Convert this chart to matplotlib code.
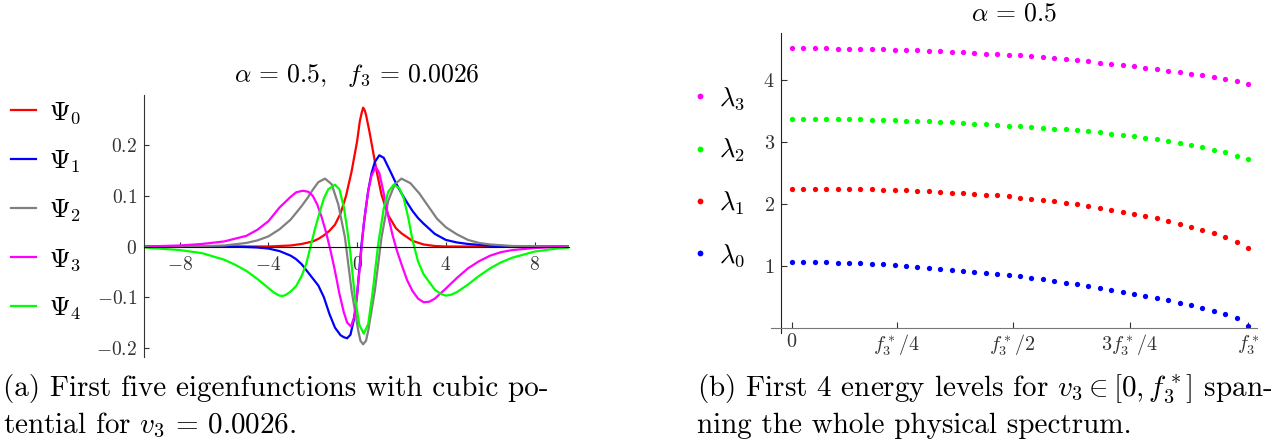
import numpy as np
import matplotlib
matplotlib.use('Agg')
import matplotlib.pyplot as plt

plt.rcParams['font.family'] = 'cmr10'
plt.rcParams['mathtext.fontset'] = 'cm'
plt.rcParams['axes.formatter.use_mathtext'] = True

# ---- (a) eigenfunctions ----
psi0_x = [-9.6, -4.0, -3.5, -3.0, -2.5, -2.0, -1.75, -1.5, -1.25, -1.0, -0.75, -0.5, -0.25, 0.0,
          0.12, 0.2, 0.27, 0.34, 0.4, 0.55, 0.72, 0.9, 1.1, 1.4, 1.75, 2.0, 2.5, 3.0, 3.5, 4.0, 9.6]
psi0_y = [0.0, 0.0, 0.001, 0.002, 0.005, 0.01, 0.015, 0.022, 0.031, 0.043, 0.065, 0.1, 0.148, 0.208,
          0.247, 0.263, 0.274, 0.269, 0.26, 0.228, 0.187, 0.144, 0.102, 0.062, 0.036, 0.026, 0.011,
          0.004, 0.001, 0.0, 0.0]

psi1_x = [-9.6, -6.0, -5.0, -4.5, -4.0, -3.5, -3.0, -2.75, -2.5, -2.25, -2.0, -1.75, -1.5, -1.25,
          -1.0, -0.75, -0.6, -0.45, -0.3, -0.15, 0.0, 0.2, 0.35, 0.5, 0.65, 0.8, 1.0, 1.2, 1.5,
          1.75, 2.0, 2.25, 2.5, 2.75, 3.0, 3.5, 4.0, 4.5, 5.0, 6.0, 7.0, 9.6]
psi1_y = [0.0, 0.0, -0.001, -0.002, -0.004, -0.009, -0.018, -0.025, -0.035, -0.049, -0.063, -0.077,
          -0.1, -0.133, -0.16, -0.175, -0.179, -0.181, -0.174, -0.145, -0.095, 0.005, 0.062, 0.11,
          0.145, 0.167, 0.18, 0.175, 0.148, 0.125, 0.105, 0.087, 0.07, 0.056, 0.045, 0.025, 0.013,
          0.008, 0.005, 0.0015, 0.0005, 0.0]

psi2_x = [-9.6, -7.0, -6.0, -5.0, -4.5, -4.0, -3.5, -3.0, -2.5, -2.25, -2.0, -1.75, -1.45, -1.15,
          -0.85, -0.55, -0.25, 0.05, 0.15, 0.27, 0.4, 0.5, 0.8, 1.1, 1.4, 1.7, 2.0, 2.4, 2.8, 3.2,
          3.6, 4.0, 4.5, 5.0, 5.5, 6.0, 7.0, 9.6]
psi2_y = [0.0, 0.001, 0.002, 0.007, 0.012, 0.02, 0.034, 0.053, 0.08, 0.095, 0.112, 0.127, 0.134,
          0.123, 0.083, 0.018, -0.087, -0.166, -0.186, -0.193, -0.186, -0.166, -0.087, 0.018, 0.09,
          0.123, 0.134, 0.125, 0.105, 0.08, 0.055, 0.038, 0.024, 0.013, 0.007, 0.004, 0.001, 0.0]

psi3_x = [-9.6, -8.0, -7.0, -6.0, -5.0, -4.5, -4.0, -3.5, -3.0, -2.75, -2.45, -2.2, -2.0, -1.8,
          -1.6, -1.4, -1.2, -1.0, -0.8, -0.6, -0.45, -0.28, -0.1, 0.1, 0.3, 0.5, 0.65, 0.84, 1.0,
          1.2, 1.4, 1.6, 1.8, 2.0, 2.25, 2.5, 2.75, 3.0, 3.25, 3.5, 4.0, 4.5, 5.0, 5.5, 6.0, 6.5,
          7.0, 8.0, 9.0, 9.6]
psi3_y = [0.0, 0.002, 0.005, 0.01, 0.021, 0.033, 0.05, 0.077, 0.098, 0.107, 0.11, 0.108, 0.1, 0.083,
          0.058, 0.028, -0.008, -0.048, -0.093, -0.13, -0.15, -0.158, -0.135, -0.05, 0.045, 0.11,
          0.14, 0.157, 0.145, 0.105, 0.06, 0.022, -0.009, -0.035, -0.066, -0.088, -0.103, -0.11,
          -0.109, -0.103, -0.083, -0.062, -0.043, -0.029, -0.018, -0.011, -0.007, -0.003, -0.001, 0.0]

psi4_x = [-9.6, -8.0, -7.0, -6.0, -5.5, -5.0, -4.5, -4.0, -3.75, -3.5, -3.35, -3.2, -3.0, -2.75,
          -2.5, -2.3, -2.1, -1.9, -1.7, -1.5, -1.3, -1.0, -0.8, -0.6, -0.45, -0.3, -0.1, 0.1, 0.3,
          0.5, 0.7, 0.95, 1.2, 1.4, 1.65, 1.9, 2.1, 2.3, 2.5, 2.75, 3.0, 3.5, 3.75, 4.0, 4.25, 4.5,
          5.0, 5.5, 6.0, 6.5, 7.0, 8.0, 9.0, 9.6]
psi4_y = [-0.002, -0.007, -0.013, -0.026, -0.036, -0.048, -0.064, -0.082, -0.091, -0.097, -0.0975,
          -0.095, -0.089, -0.078, -0.058, -0.035, 0.0, 0.035, 0.066, 0.095, 0.113, 0.122, 0.113,
          0.078, 0.035, -0.015, -0.1, -0.155, -0.172, -0.153, -0.09, 0.005, 0.075, 0.108, 0.122,
          0.115, 0.095, 0.058, 0.012, -0.03, -0.055, -0.085, -0.093, -0.097, -0.095, -0.09, -0.075,
          -0.058, -0.043, -0.031, -0.022, -0.01, -0.004, -0.002]

psi_labels = [r'$\Psi_0$', r'$\Psi_1$', r'$\Psi_2$', r'$\Psi_3$', r'$\Psi_4$']
psi_colors = ['#ff0000', '#0000ff', '#808080', '#ff00ff', '#00ff00']

# ---- (b) energy levels, 41 values of f3 in [0, f3*] ----
lam0 = [1.062, 1.062, 1.062, 1.057, 1.051, 1.046, 1.041, 1.030, 1.024, 1.013, 0.997, 0.987, 0.970,
        0.954, 0.938, 0.922, 0.906, 0.889, 0.873, 0.857, 0.836, 0.803, 0.782, 0.755, 0.728, 0.701,
        0.668, 0.642, 0.615, 0.582, 0.550, 0.512, 0.480, 0.442, 0.404, 0.361, 0.318, 0.270, 0.216,
        0.151, 0.032]
lam1 = [2.248, 2.248, 2.248, 2.248, 2.248, 2.243, 2.243, 2.237, 2.232, 2.226, 2.221, 2.210, 2.205,
        2.194, 2.183, 2.173, 2.162, 2.151, 2.140, 2.124, 2.102, 2.086, 2.065, 2.043, 2.022, 1.995,
        1.968, 1.941, 1.908, 1.876, 1.844, 1.811, 1.768, 1.725, 1.682, 1.633, 1.580, 1.526, 1.461,
        1.385, 1.294]
lam2 = [3.384, 3.384, 3.384, 3.378, 3.378, 3.378, 3.373, 3.368, 3.362, 3.357, 3.351, 3.346, 3.341,
        3.330, 3.324, 3.314, 3.303, 3.292, 3.281, 3.270, 3.259, 3.249, 3.238, 3.222, 3.211, 3.195,
        3.178, 3.162, 3.141, 3.119, 3.097, 3.076, 3.049, 3.022, 2.989, 2.957, 2.919, 2.881, 2.838,
        2.784, 2.724]
lam3 = [4.519, 4.519, 4.519, 4.519, 4.514, 4.514, 4.508, 4.508, 4.503, 4.497, 4.492, 4.486, 4.481,
        4.476, 4.465, 4.454, 4.443, 4.432, 4.422, 4.411, 4.405, 4.389, 4.373, 4.357, 4.341, 4.324,
        4.308, 4.286, 4.270, 4.249, 4.227, 4.205, 4.184, 4.157, 4.135, 4.108, 4.081, 4.054, 4.022,
        3.984, 3.946]
f_grid = np.linspace(0, 1, 41)  # f3 / f3*
lam_labels = [r'$\lambda_0$', r'$\lambda_1$', r'$\lambda_2$', r'$\lambda_3$']
lam_colors = ['#0000ff', '#ff0000', '#00ff00', '#ff00ff']

f_ticks = [0, 0.23, 0.484, 0.741, 1.0]
f_ticklabels = [r'$0$', r'$f_3^*/4$', r'$f_3^*/2$', r'$3f_3^*/4$', r'$f_3^*$']

fig = plt.figure(figsize=(12.71, 4.46), dpi=100)

# left panel
ax1 = fig.add_axes([0.1135, 0.1996, 0.3341, 0.5874])
psi_x = [psi0_x, psi1_x, psi2_x, psi3_x, psi4_x]
psi_y = [psi0_y, psi1_y, psi2_y, psi3_y, psi4_y]
for xs, ys, c, lab in zip(psi_x, psi_y, psi_colors, psi_labels):
    ax1.plot(xs, ys, color=c, lw=1.6, label=lab, solid_joinstyle='round')
ax1.set_xlim(-9.6, 9.55)
ax1.set_ylim(-0.218, 0.299)
for s in ['top', 'right']:
    ax1.spines[s].set_visible(False)
ax1.spines['bottom'].set_position(('data', 0))
ax1.spines['bottom'].set_color('#111111')
ax1.spines['left'].set_color('#333333')
ax1.set_xticks([-8, -4, 0, 4, 8])
ax1.set_xticklabels([r'$-8$', r'$-4$', r'$0$', r'$4$', r'$8$'])
ax1.set_yticks([-0.2, -0.1, 0, 0.1, 0.2])
ax1.set_yticklabels([r'$-0.2$', r'$-0.1$', r'$0$', r'$0.1$', r'$0.2$'])
ax1.tick_params(direction='in', length=3.5, width=0.8, labelsize=14, colors='#333333')
ax1.tick_params(axis='x', pad=7)
ax1.tick_params(axis='y', pad=5)
ax1.text(0.5, 1.076, r'$\alpha\,=\,0.5,\;\;\, f_3\,=\,0.0026$', transform=ax1.transAxes,
         ha='center', va='center', fontsize=18.5)
ax1.legend(loc='center left', bbox_to_anchor=(0.0084, 0.527), bbox_transform=fig.transFigure,
           frameon=False, fontsize=19, handlelength=0.97, handletextpad=0.48,
           labelspacing=0.86, borderpad=0, borderaxespad=0)

# right panel
ax2 = fig.add_axes([0.6063, 0.2534, 0.3827, 0.672])
lams = [lam0, lam1, lam2, lam3]
handles = []
for vals, c, lab in zip(lams, lam_colors, lam_labels):
    h, = ax2.plot(f_grid, vals, 'o', ms=3.8, color=c, mec='none', label=lab)
    handles.append(h)
ax2.set_xlim(-0.0469, 1.0197)
ax2.set_ylim(-0.086, 4.764)
for s in ['top', 'right']:
    ax2.spines[s].set_visible(False)
ax2.spines['bottom'].set_position(('data', 0))
ax2.spines['left'].set_position(('data', -0.0252))
ax2.spines['bottom'].set_color('#777777')
ax2.spines['left'].set_color('#222222')
ax2.set_xticks(f_ticks)
ax2.set_xticklabels(f_ticklabels)
ax2.set_yticks([1, 2, 3, 4])
ax2.set_yticklabels([r'$1$', r'$2$', r'$3$', r'$4$'])
ax2.tick_params(direction='in', length=4, width=0.8, labelsize=14.5, colors='#333333')
ax2.tick_params(axis='x', pad=4)
ax2.tick_params(axis='y', pad=4)
ax2.text(0.5, 1.0667, r'$\alpha\,=\,0.5$', transform=ax2.transAxes,
         ha='center', va='center', fontsize=18.5)
ax2.legend(handles[::-1], lam_labels[::-1], loc='center left', bbox_to_anchor=(0.5455, 0.6034),
           bbox_transform=fig.transFigure, frameon=False, fontsize=19, handlelength=0.47,
           handletextpad=0.52, labelspacing=0.95, borderpad=0, borderaxespad=0, numpoints=1,
           markerscale=1.1)

# captions
cap = 21
fig.text(0.0024, 0.1294, '(a) First five eigenfunctions with cubic po-', fontsize=cap, va='center')
fig.text(0.0024, 0.0455, r'tential for $v_3\,=\,0.0026$.', fontsize=cap, va='center')
fig.text(0.548, 0.1294, r'(b) First 4 energy levels for $v_3 \in [0, f_3^*]$ span-', fontsize=cap,
         va='center')
fig.text(0.548, 0.0455, 'ning the whole physical spectrum.', fontsize=cap, va='center')

fig.savefig('out.png', dpi=100)
